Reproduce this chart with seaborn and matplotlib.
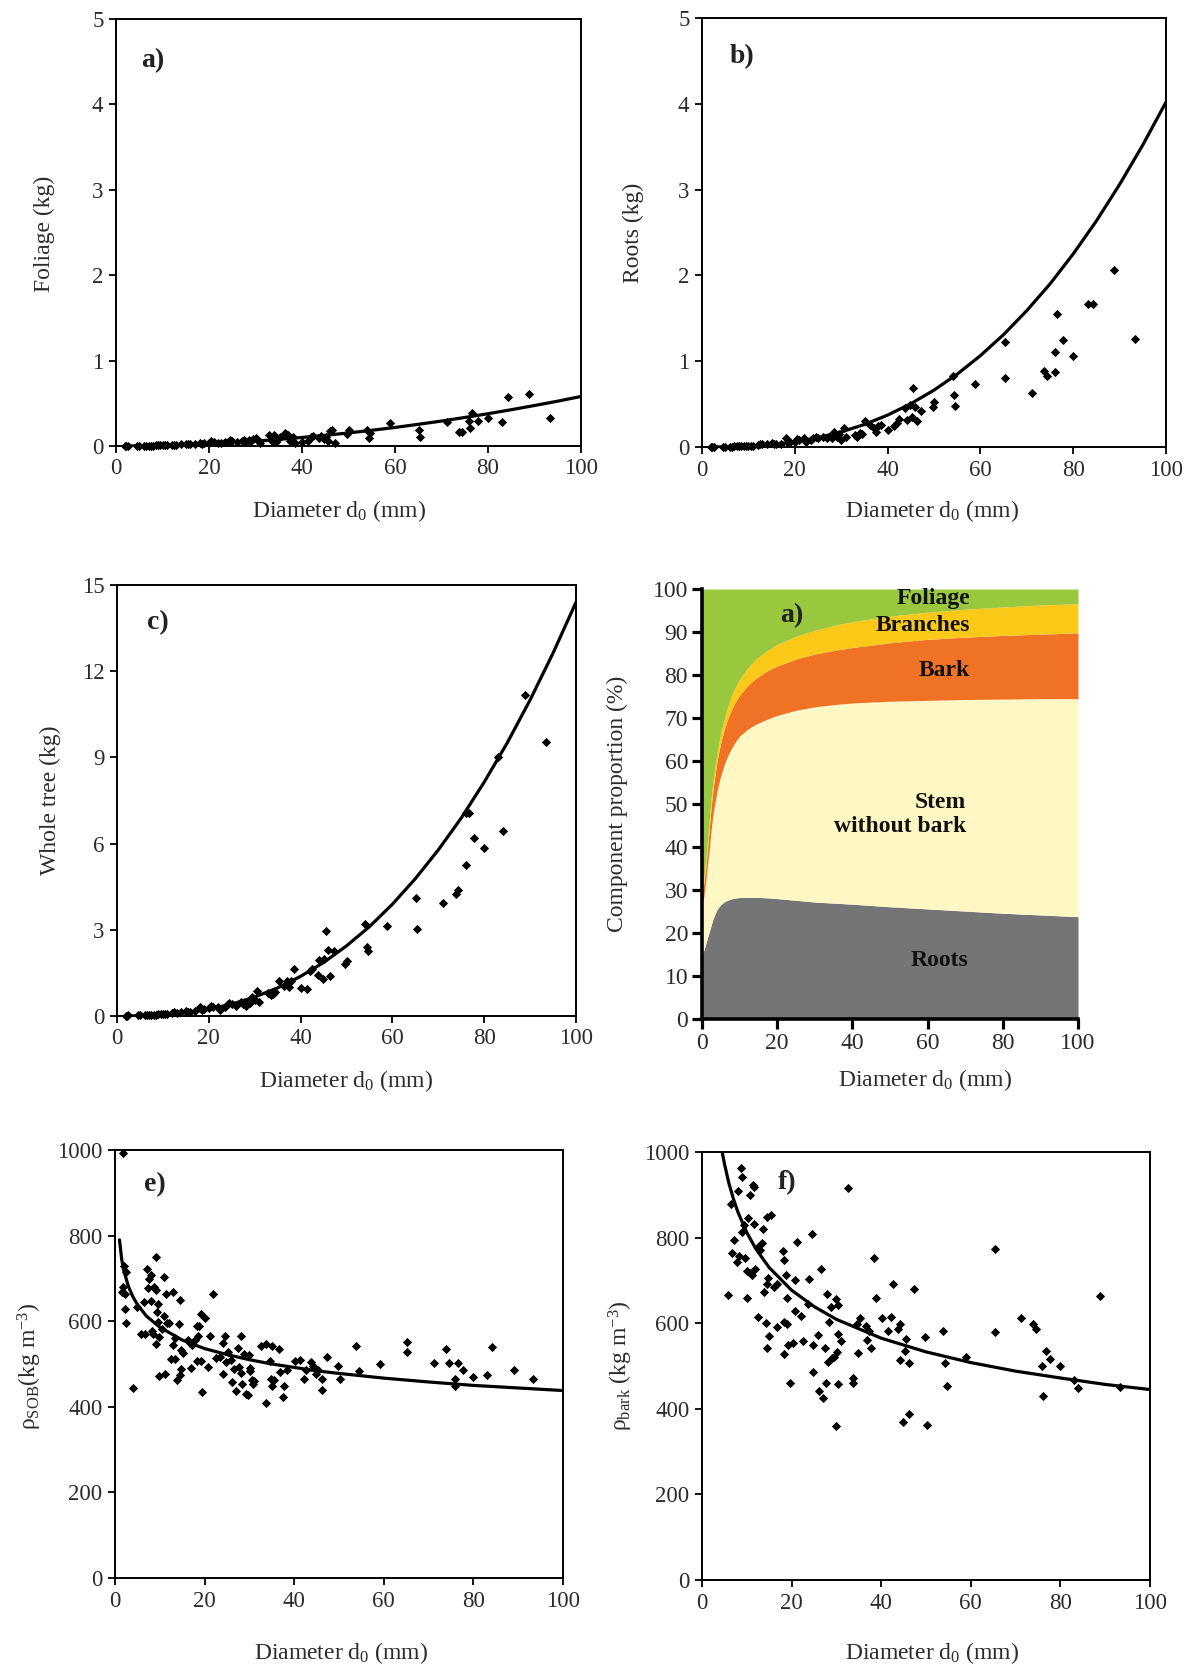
import matplotlib
matplotlib.use("Agg")
import matplotlib.pyplot as plt
import seaborn as sns

# ---------------- data ----------------
# panels a-c : individual trees
d0 = [2.0, 2.2, 2.5, 4.5, 5.0, 6.0, 6.5, 7.0, 7.5, 8.0,
      8.5, 9.0, 9.5, 10.0, 10.5, 11.0, 12.0, 12.5, 13.0, 14.0,
      15.0, 15.5, 16.0, 17.0, 18.0, 18.5, 19.0, 20.0, 20.5, 21.0,
      22.0, 22.5, 23.5, 24.0, 24.5, 25.0, 26.0, 27.0, 27.5, 28.0,
      28.5, 29.0, 29.5, 30.0, 30.5, 31.0, 33.0, 33.5, 34.0, 34.5,
      35.2, 36.3, 37.0, 37.5, 38.0, 38.5, 40.0, 41.3, 42.0, 42.4,
      43.7, 44.1, 44.8, 45.2, 45.5, 46.0, 46.4, 47.2, 49.7, 50.1,
      54.0, 54.4, 54.6, 58.9, 65.2, 65.3, 71.1, 73.8, 74.4, 76.0,
      76.1, 76.6, 77.8, 79.9, 83.1, 84.2, 88.9, 93.4]
foliage = [0.000, 0.001, 0.001, 0.002, 0.002, 0.003, 0.003, 0.004, 0.005, 0.005,
           0.006, 0.007, 0.008, 0.008, 0.010, 0.010, 0.012, 0.015, 0.014, 0.020,
           0.025, 0.018, 0.020, 0.025, 0.030, 0.025, 0.030, 0.040, 0.055, 0.045,
           0.040, 0.030, 0.045, 0.050, 0.065, 0.055, 0.045, 0.060, 0.070, 0.050,
           0.070, 0.060, 0.080, 0.090, 0.070, 0.040, 0.130, 0.060, 0.130, 0.050,
           0.100, 0.150, 0.130, 0.060, 0.100, 0.040, 0.050, 0.060, 0.100, 0.120,
           0.090, 0.120, 0.080, 0.100, 0.060, 0.170, 0.190, 0.040, 0.140, 0.190,
           0.190, 0.090, 0.150, 0.270, 0.190, 0.110, 0.280, 0.165, 0.160, 0.290,
           0.210, 0.390, 0.290, 0.330, 0.280, 0.570, 0.610, 0.330]
roots = [0.000, 0.001, 0.001, 0.002, 0.003, 0.004, 0.004, 0.006, 0.006, 0.008,
         0.008, 0.010, 0.012, 0.012, 0.015, 0.016, 0.022, 0.040, 0.030, 0.035,
         0.045, 0.030, 0.030, 0.040, 0.100, 0.050, 0.060, 0.060, 0.090, 0.080,
         0.100, 0.060, 0.080, 0.110, 0.120, 0.100, 0.120, 0.110, 0.130, 0.110,
         0.180, 0.120, 0.150, 0.080, 0.220, 0.120, 0.140, 0.120, 0.160, 0.150,
         0.300, 0.260, 0.220, 0.180, 0.240, 0.260, 0.200, 0.240, 0.280, 0.330,
         0.450, 0.310, 0.490, 0.350, 0.690, 0.470, 0.300, 0.420, 0.470, 0.530,
         0.830, 0.610, 0.480, 0.730, 1.220, 0.810, 0.630, 0.890, 0.830, 1.110,
         0.870, 1.550, 1.250, 1.060, 1.670, 1.670, 2.060, 1.260]
whole = [0.01, 0.01, 0.02, 0.02, 0.02, 0.03, 0.03, 0.04, 0.04, 0.05,
         0.05, 0.06, 0.06, 0.07, 0.08, 0.08, 0.10, 0.14, 0.12, 0.15,
         0.16, 0.13, 0.14, 0.18, 0.30, 0.22, 0.25, 0.28, 0.35, 0.30,
         0.32, 0.22, 0.30, 0.38, 0.45, 0.42, 0.35, 0.48, 0.42, 0.35,
         0.50, 0.45, 0.65, 0.55, 0.87, 0.50, 0.80, 0.72, 0.78, 0.85,
         1.23, 1.05, 1.23, 1.00, 1.23, 1.63, 0.99, 0.93, 1.55, 1.62,
         1.41, 1.95, 1.29, 2.00, 2.97, 2.29, 1.39, 2.25, 1.80, 1.90,
         3.21, 2.41, 2.25, 3.14, 4.10, 3.03, 3.93, 4.23, 4.38, 7.08,
         5.27, 7.05, 6.20, 5.84, 9.03, 6.44, 11.17, 9.55]

# fitted curves
curve_x = [2, 5, 10, 15, 20, 25, 30, 35, 40, 45, 50, 55, 60, 65, 70, 75, 80, 85, 90, 95, 100]
foliage_curve = [0.000, 0.002, 0.007, 0.015, 0.026, 0.040, 0.057, 0.077, 0.100, 0.125, 0.153,
                 0.184, 0.217, 0.254, 0.292, 0.334, 0.378, 0.425, 0.474, 0.525, 0.580]
roots_curve = [0.000, 0.002, 0.010, 0.029, 0.061, 0.109, 0.176, 0.262, 0.372, 0.504, 0.663,
               0.849, 1.065, 1.31, 1.59, 1.90, 2.25, 2.635, 3.06, 3.52, 4.02]
whole_curve = [0.000, 0.007, 0.040, 0.112, 0.234, 0.414, 0.66, 0.979, 1.38, 1.86, 2.44,
               3.11, 3.89, 4.78, 5.78, 6.89, 8.14, 9.50, 11.0, 12.63, 14.4]

# panel d : cumulative component boundaries (%)
d_x = [0, 0.5, 1, 1.5, 2, 2.5, 3, 4, 5, 6, 7, 8, 9, 10,
       12, 14, 17, 20, 25, 30, 35, 40, 50, 60, 70, 80, 90, 100]
roots_top = [15.0, 16.0, 17.5, 19.0, 20.5, 22.0, 23.5, 25.5, 26.6, 27.3, 27.7, 28.0, 28.15, 28.25,
             28.3, 28.3, 28.2, 28.0, 27.6, 27.2, 26.95, 26.7, 26.1, 25.6, 25.1, 24.6, 24.2, 23.8]
stem_top = [26.5, 28.5, 32.0, 36.0, 40.0, 44.5, 48.0, 53.0, 56.6, 59.4, 61.5, 63.2, 64.6, 65.8,
            67.3, 68.4, 69.6, 70.6, 71.8, 72.6, 73.1, 73.5, 73.9, 74.1, 74.3, 74.4, 74.5, 74.5]
bark_top = [29.0, 31.5, 35.0, 40.0, 45.0, 50.0, 54.0, 60.0, 64.3, 67.6, 70.2, 72.2, 73.9, 75.3,
            77.4, 79.0, 80.8, 82.1, 83.7, 84.9, 85.7, 86.4, 87.5, 88.3, 88.8, 89.2, 89.5, 89.8]
branch_top = [30.0, 33.0, 37.0, 42.0, 47.0, 52.0, 56.0, 62.0, 66.5, 70.0, 73.0, 75.5, 77.4, 79.0,
              81.5, 83.4, 85.5, 87.1, 89.0, 90.4, 91.5, 92.4, 93.7, 94.6, 95.3, 95.8, 96.3, 96.6]
components = ["Roots", "Stem\nwithout bark", "Bark", "Branches", "Foliage"]
comp_colors = ["#747576", "#FFF8C4", "#F07224", "#FDC918", "#99C73E"]

# panel e : stem-over-bark density
e_x = [1.8, 2.0, 1.7, 2.2, 1.5, 2.4, 2.2, 2.4, 4.1, 4.8,
       5.8, 6.5, 6.7, 7.1, 7.4, 7.7, 8.0, 8.0, 8.2, 8.4,
       8.6, 9.1, 9.1, 9.1, 9.4, 9.5, 9.7, 9.9, 9.9, 10.5,
       11.0, 11.0, 11.2, 11.4, 11.6, 12.1, 12.4, 12.9, 12.9, 13.5,
       13.5, 13.8, 14.2, 14.4, 14.6, 14.8, 14.8, 15.2, 16.4, 16.7,
       17.0, 17.2, 17.8, 18.2, 18.2, 18.5, 18.8, 19.1, 19.1, 19.5,
       20.2, 20.8, 21.1, 21.9, 22.5, 23.4, 24.0, 24.2, 24.5, 24.7,
       25.2, 26.0, 26.1, 26.5, 27.1, 27.4, 27.7, 28.1, 28.1, 28.3,
       28.7, 29.2, 29.6, 30.0, 30.1, 30.2, 30.5, 30.7, 31.1, 32.6,
       33.6, 33.8, 34.5, 34.8, 35.0, 35.0, 35.4, 36.5, 36.9, 37.5,
       37.8, 38.4, 40.1, 41.4, 42.2, 42.6, 43.7, 44.2, 44.8, 45.4,
       46.1, 46.3, 47.3, 49.7, 50.3, 53.9, 54.4, 59.1, 65.2, 65.2,
       71.1, 73.9, 74.5, 76.0, 76.0, 76.6, 77.7, 80.0, 83.0, 84.2,
       89.0, 93.3]
e_y = [993, 730, 679, 663, 669, 716, 628, 596, 444, 634,
       571, 645, 569, 722, 677, 699, 709, 648, 577, 569,
       681, 674, 750, 547, 622, 640, 597, 563, 471, 581,
       704, 611, 476, 663, 595, 595, 511, 669, 544, 561,
       511, 462, 593, 474, 649, 489, 532, 525, 556, 548,
       491, 544, 556, 589, 507, 565, 589, 616, 507, 434,
       608, 493, 565, 663, 513, 517, 548, 477, 565, 505,
       528, 509, 458, 489, 438, 538, 493, 565, 479, 454,
       524, 430, 428, 522, 491, 483, 462, 454, 460, 543,
       546, 409, 507, 466, 542, 448, 462, 536, 481, 423,
       448, 487, 507, 509, 466, 487, 505, 495, 477, 487,
       439, 464, 517, 495, 466, 542, 483, 499, 551, 528,
       502, 536, 502, 466, 448, 502, 487, 470, 475, 540,
       485, 466]
e_curve_x = [1, 1.5, 2, 3, 4, 5, 7, 10, 15, 20, 25, 30, 35, 40, 45, 50, 60, 70, 80, 90, 100]
e_curve_y = [790, 744, 717, 681, 657, 639, 612, 586, 556, 536, 522, 510, 500, 492, 484, 478,
             467, 458, 450, 444, 438]

# panel f : bark density
f_x = [5.8, 6.5, 6.6, 7.2, 7.9, 8.2, 8.1, 8.6, 9.0, 9.0,
       9.4, 9.6, 10.0, 10.0, 10.3, 10.7, 10.8, 11.1, 11.4, 11.6,
       11.5, 11.9, 12.4, 12.5, 12.9, 13.4, 13.6, 13.8, 14.2, 14.4,
       14.5, 14.5, 14.8, 14.9, 15.3, 16.1, 16.7, 16.7, 18.0, 18.2,
       18.2, 18.3, 18.8, 19.0, 19.0, 19.1, 19.7, 20.3, 20.8, 20.8,
       21.1, 22.0, 22.5, 23.7, 23.9, 24.5, 24.7, 24.7, 25.9, 26.2,
       26.6, 27.0, 27.4, 27.7, 27.9, 28.1, 28.3, 28.7, 29.1, 29.5,
       29.9, 30.0, 30.2, 30.4, 30.4, 30.4, 31.1, 32.5, 33.7, 33.7,
       34.7, 34.8, 35.2, 36.5, 36.9, 37.8, 37.3, 38.4, 38.8, 40.1,
       41.5, 42.1, 42.6, 43.7, 44.1, 44.2, 44.9, 45.3, 45.6, 46.2,
       46.3, 47.3, 49.7, 50.2, 53.9, 54.3, 54.6, 59.0, 65.3, 65.3,
       71.2, 73.9, 74.5, 76.0, 76.2, 76.7, 77.7, 79.8, 83.0, 84.0,
       88.9, 93.4]
f_y = [666, 878, 765, 794, 742, 757, 910, 962, 941, 813,
       829, 753, 660, 723, 845, 718, 899, 713, 922, 919,
       832, 726, 615, 778, 770, 788, 821, 673, 601, 542,
       691, 847, 705, 570, 852, 684, 691, 591, 768, 748,
       603, 529, 713, 660, 599, 548, 461, 554, 700, 629,
       790, 617, 558, 646, 703, 808, 550, 485, 572, 441,
       727, 426, 542, 461, 668, 510, 603, 639, 519, 521,
       359, 656, 533, 642, 575, 459, 558, 915, 473, 461,
       597, 530, 613, 594, 560, 542, 581, 752, 660, 612,
       581, 615, 691, 587, 597, 515, 368, 534, 564, 506,
       389, 680, 568, 363, 582, 507, 454, 520, 774, 579,
       611, 599, 587, 499, 430, 534, 517, 499, 468, 448,
       664, 452]
f_curve_x = [4.5, 5, 6, 7, 8, 10, 12, 15, 20, 25, 30, 40, 50, 60, 70, 80, 90, 100]
f_curve_y = [1000, 973, 927, 891, 860, 812, 774, 730, 677, 639, 609, 565, 533, 508, 488,
             472, 457, 445]

# ---------------- styling ----------------
sns.set_theme(style="white")
plt.rcParams["font.family"] = ["Liberation Serif", "DejaVu Serif"]
plt.rcParams["mathtext.fontset"] = "custom"
plt.rcParams["mathtext.rm"] = "Liberation Serif"
plt.rcParams["mathtext.it"] = "Liberation Serif:italic"
plt.rcParams["mathtext.bf"] = "Liberation Serif:bold"

W, H = 1192, 1669
fig = plt.figure(figsize=(W / 100, H / 100), dpi=100)
fig.patch.set_facecolor("white")

TICK_FS = 16.5
LAB_FS = 17
LET_FS = 20
TXT_COL = "#2b2b2b"
XLAB = "Diameter d$_{0}$ (mm)"


def add_ax(left, right, top, bottom):
    return fig.add_axes([left / W, 1 - bottom / H, (right - left) / W, (bottom - top) / H])


def box_style(ax):
    for sp in ax.spines.values():
        sp.set_visible(True)
        sp.set_color("black")
        sp.set_linewidth(1.4)
    ax.tick_params(axis="both", which="major", direction="out", length=5, width=1.3,
                   color="black", labelcolor=TXT_COL, labelsize=TICK_FS,
                   left=True, bottom=True, right=False, top=False, pad=4)
    ax.set_facecolor("white")


def labels(ax, ylab, xc, yc):
    ax.set_xlabel(XLAB, fontsize=LAB_FS, color=TXT_COL, va="center", ha="center")
    ax.set_ylabel(ylab, fontsize=LAB_FS, color=TXT_COL, va="center", ha="center")
    ax.xaxis.set_label_coords(*xc)
    ax.yaxis.set_label_coords(*yc)


def scatter_panel(ax, x, y, cx, cy):
    sns.scatterplot(x=x, y=y, ax=ax, marker="D", s=22, color="black",
                    edgecolor="black", linewidth=0, legend=False, zorder=3, clip_on=False)
    sns.lineplot(x=cx, y=cy, ax=ax, color="black", linewidth=2.3, sort=False,
                 estimator=None, legend=False, zorder=4)


def letter(ax, x, y, s):
    ax.text(x, y, s, fontsize=LET_FS, fontweight="bold", ha="center", va="center", color="#222")


# ---- panel a: foliage
ax = add_ax(116, 581, 19, 446)
scatter_panel(ax, d0, foliage, curve_x, foliage_curve)
ax.set_xlim(0, 100); ax.set_ylim(0, 5)
ax.set_xticks(range(0, 101, 20)); ax.set_yticks(range(0, 6))
box_style(ax)
labels(ax, "Foliage (kg)", (0.48, -0.152), (-0.153, 0.496))
letter(ax, 7.8, 4.51, "a)")

# ---- panel b: roots
ax = add_ax(702, 1166, 18, 447)
scatter_panel(ax, d0, roots, curve_x, roots_curve)
ax.set_xlim(0, 100); ax.set_ylim(0, 5)
ax.set_xticks(range(0, 101, 20)); ax.set_yticks(range(0, 6))
box_style(ax)
labels(ax, "Roots (kg)", (0.496, -0.149), (-0.147, 0.50))
letter(ax, 8.7, 4.55, "b)")

# ---- panel c: whole tree
ax = add_ax(117, 576, 585, 1016)
scatter_panel(ax, d0, whole, curve_x, whole_curve)
ax.set_xlim(0, 100); ax.set_ylim(0, 15)
ax.set_xticks(range(0, 101, 20)); ax.set_yticks(range(0, 16, 3))
box_style(ax)
labels(ax, "Whole tree (kg)", (0.499, -0.151), (-0.146, 0.501))
letter(ax, 8.8, 13.7, "c)")

# ---- panel d: component proportions
ax = add_ax(702, 1078, 589, 1019)
bounds = [[0] * len(d_x), roots_top, stem_top, bark_top, branch_top, [100] * len(d_x)]
for i, col in enumerate(comp_colors):
    ax.fill_between(d_x, bounds[i], bounds[i + 1], color=col, linewidth=0, zorder=1)
ax.set_xlim(0, 100); ax.set_ylim(0, 100)
ax.set_xticks(range(0, 101, 20)); ax.set_yticks(range(0, 101, 10))
ax.set_facecolor("white")
for s in ("top", "right"):
    ax.spines[s].set_visible(False)
for s in ("left", "bottom"):
    ax.spines[s].set_visible(True)
    ax.spines[s].set_color("black")
    ax.spines[s].set_linewidth(2.6)
    ax.spines[s].set_zorder(5)
ax.tick_params(axis="both", direction="out", length=7, width=2.3, color="black",
               labelcolor=TXT_COL, labelsize=TICK_FS + 0.5, left=True, bottom=True, pad=3)
labels(ax, "Component proportion (%)", (0.593, -0.142), (-0.226, 0.501))
lab_kw = dict(fontsize=17, fontweight="bold", ha="right", va="center", color="#111", zorder=6)
ax.text(71.3, 97.8, components[4], **lab_kw)
ax.text(71.3, 91.6, components[3], **lab_kw)
ax.text(71.3, 81.0, components[2], **lab_kw)
ax.text(70.3, 47.6, components[1], multialignment="right", linespacing=1.2, **lab_kw)
ax.text(70.8, 13.6, components[0], **lab_kw)
letter(ax, 24, 93.8, "a)")

# ---- panel e: stem-over-bark density
ax = add_ax(115, 563, 1150, 1578)
scatter_panel(ax, e_x, e_y, e_curve_x, e_curve_y)
ax.set_xlim(0, 100); ax.set_ylim(0, 1000)
ax.set_xticks(range(0, 101, 20)); ax.set_yticks(range(0, 1001, 200))
box_style(ax)
labels(ax, "ρ$_{\\mathrm{SOB}}$(kg m$^{-3}$)", (0.504, -0.175), (-0.19, 0.496))
letter(ax, 8.8, 920, "e)")

# ---- panel f: bark density
ax = add_ax(702, 1150, 1152, 1580)
scatter_panel(ax, f_x, f_y, f_curve_x, f_curve_y)
ax.set_xlim(0, 100); ax.set_ylim(0, 1000)
ax.set_xticks(range(0, 101, 20)); ax.set_yticks(range(0, 1001, 200))
box_style(ax)
labels(ax, "ρ$_{\\mathrm{bark}}$ (kg m$^{-3}$)", (0.513, -0.171), (-0.182, 0.501))
letter(ax, 19, 928, "f)")

fig.savefig("out.png", dpi=100, facecolor="white")
